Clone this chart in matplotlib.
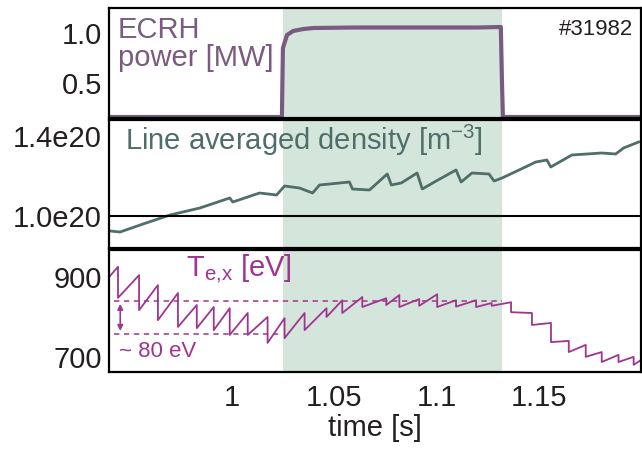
import matplotlib

matplotlib.use("Agg")
import matplotlib.pyplot as plt

plt.rcParams["font.family"] = ["Liberation Sans", "DejaVu Sans"]
plt.rcParams["mathtext.fontset"] = "custom"
plt.rcParams["mathtext.rm"] = "Liberation Sans"
plt.rcParams["mathtext.it"] = "Liberation Sans:italic"

# ECRH power [MW]
power_t = [0.940, 1.0245, 1.0250, 1.0270, 1.0300, 1.0350, 1.0400, 1.0600, 1.0800, 1.1000, 1.1200, 1.1315, 1.1320, 1.1325, 1.2000]
power_mw = [0.16, 0.16, 0.85, 0.98, 1.02, 1.04, 1.05, 1.055, 1.055, 1.055, 1.055, 1.06, 0.56, 0.16, 0.16]

# line averaged density [1e20 m^-3]
dens_t = [0.9405, 0.9454, 0.9552, 0.9698, 0.9844, 0.9990, 1.0005, 1.0136, 1.0219, 1.0258, 1.0331, 1.0395,
          1.0429, 1.0575, 1.0590, 1.0673, 1.0760, 1.0780, 1.0828, 1.0906, 1.0931, 1.0999, 1.1096, 1.1121,
          1.1174, 1.1257, 1.1282, 1.1321, 1.1404, 1.1486, 1.1540, 1.1559, 1.1662, 1.1808, 1.1876, 1.1915, 1.1988]
dens = [0.925, 0.920, 0.955, 1.005, 1.040, 1.090, 1.070, 1.115, 1.105, 1.150, 1.140, 1.115,
        1.155, 1.170, 1.135, 1.130, 1.210, 1.155, 1.165, 1.215, 1.135, 1.175, 1.230, 1.170,
        1.215, 1.210, 1.175, 1.190, 1.230, 1.270, 1.280, 1.245, 1.305, 1.315, 1.310, 1.340, 1.370]

# electron temperature sawteeth [eV]
te_start = (0.940, 900)
te_end = (1.200, 692)
crash_t = [0.9444, 0.9547, 0.9639, 0.9737, 0.9829, 0.9912, 0.9990, 1.0078, 1.0175, 1.0258, 1.0356, 1.0463,
           1.0540, 1.0638, 1.0755, 1.0819, 1.0916, 1.1004, 1.1096, 1.1194, 1.1270, 1.1365, 1.1467, 1.1560,
           1.1647, 1.1730, 1.1808, 1.1890, 1.1964]
te_pre = [926, 905, 880, 860, 830, 825, 822, 810, 800, 797, 810, 822, 842, 850, 847, 855, 845, 857, 842,
          842, 835, 837, 810, 785, 740, 730, 712, 705, 700]
te_post = [848, 817, 792, 775, 772, 767, 755, 755, 735, 747, 767, 800, 810, 825, 830, 825, 828, 825, 826,
           825, 828, 812, 780, 737, 712, 700, 687, 687, 680]

ecrh_window = (1.025, 1.132)
te_levels = [840, 758]
shot = "#31982"

POWER_COLOR = "#7a5a80"
DENS_COLOR = "#4f6e6a"
TE_COLOR = "#a0358f"
SHADE = "#d4e6dc"
INK = "#231f20"

te_t = [te_start[0]]
te_v = [te_start[1]]
for t, a, b in zip(crash_t, te_pre, te_post):
    te_t += [t, t]
    te_v += [a, b]
te_t.append(te_end[0])
te_v.append(te_end[1])

fig = plt.figure(figsize=(6.42, 4.49), dpi=100)
left, width = 109 / 642, 532 / 642
ax_p = fig.add_axes([left, 1 - 118 / 449, width, 110 / 449])
ax_n = fig.add_axes([left, 1 - 248 / 449, width, 128 / 449])
ax_t = fig.add_axes([left, 1 - 372 / 449, width, 122 / 449])

for ax in (ax_p, ax_n, ax_t):
    ax.axvspan(*ecrh_window, color=SHADE, lw=0, zorder=0)
    ax.set_xlim(0.94, 1.2)
    for s in ax.spines.values():
        s.set_linewidth(1.6)
    ax.tick_params(length=0, labelsize=21, pad=5, colors=INK)
    ax.tick_params(axis="x", pad=9)

ax_p.plot(power_t, power_mw, color=POWER_COLOR, lw=3)
ax_p.set_ylim(0.15, 1.25)
ax_p.set_yticks([0.5, 1.0], ["0.5", "1.0"])
ax_p.set_xticks([])
ax_p.text(0.016, 0.93, "ECRH\npower [MW]", transform=ax_p.transAxes, color=POWER_COLOR,
          fontsize=21, va="top", ha="left", linespacing=1.0)
ax_p.text(0.985, 0.9, shot, transform=ax_p.transAxes, fontsize=16, va="top", ha="right", color=INK)

ax_n.plot(dens_t, dens, color=DENS_COLOR, lw=2)
ax_n.axhline(1.0, color="black", lw=1.5)
ax_n.set_ylim(0.84, 1.48)
ax_n.set_yticks([1.0, 1.4], ["1.0e20", "1.4e20"])
ax_n.set_xticks([])
ax_n.text(0.03, 0.84, "Line averaged density [m$^{-3}$]", transform=ax_n.transAxes, color=DENS_COLOR,
          fontsize=21, va="center", ha="left")

ax_t.plot(te_t, te_v, color=TE_COLOR, lw=1.3)
ax_t.hlines(te_levels[0], 0.9425, 1.132, color=TE_COLOR, lw=1.1, ls=(0, (3.5, 3)))
ax_t.hlines(te_levels[1], 0.9425, 1.0235, color=TE_COLOR, lw=1.1, ls=(0, (3.5, 3)))
ax_t.annotate("", xy=(0.9455, te_levels[1]), xytext=(0.9455, te_levels[0]),
              arrowprops=dict(arrowstyle="<|-|>", color=TE_COLOR, lw=1.2, mutation_scale=8,
                              shrinkA=2, shrinkB=2))
ax_t.text(0.9448, 714, "~ 80 eV", color=TE_COLOR, fontsize=16, va="center", ha="left")
ax_t.text(0.9775, 922, "T$_{\\mathrm{e{,}x}}$ [eV]", color=TE_COLOR, fontsize=21, va="center", ha="left")
ax_t.set_ylim(662, 968)
ax_t.set_yticks([700, 900], ["700", "900"])
ax_t.set_xticks([1.0, 1.05, 1.1, 1.15], ["1", "1.05", "1.1", "1.15"])
ax_t.set_xlabel("time [s]", fontsize=21, color=INK, labelpad=1)

fig.savefig("out.png", dpi=100)
